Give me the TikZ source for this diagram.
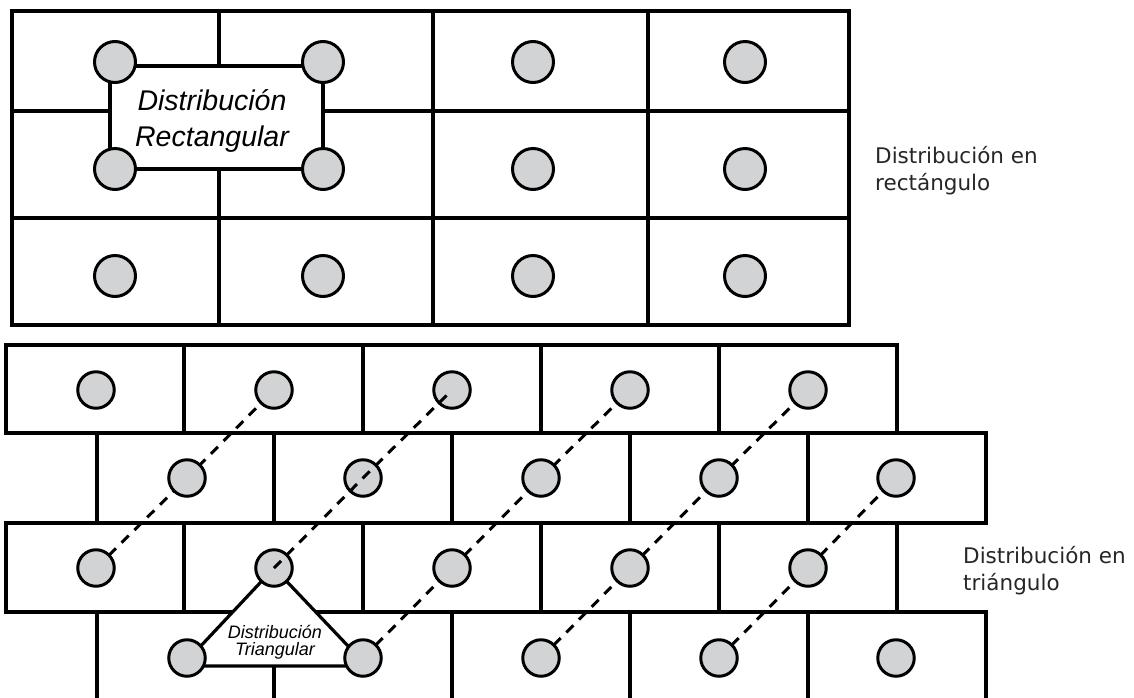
\documentclass[tikz,border=0pt]{standalone}
\usepackage{fontspec}
\setsansfont{Liberation Sans}
\newfontfamily\sidefont{DejaVu Sans}
\usetikzlibrary{backgrounds}
\definecolor{dotgray}{RGB}{209,211,212}
\tikzset{
    gridline/.style={line width=3.2pt, line cap=rect},
    bigdot/.style={circle, draw=black, line width=3pt, fill=dotgray, minimum size=41pt, inner sep=0pt},
    smalldot/.style={bigdot, minimum size=36.5pt},
    dashline/.style={line width=3pt, dash pattern=on 10pt off 8pt},
    rectlabel/.style={font=\fontsize{28.5}{36}\selectfont\sffamily\itshape, align=center, inner sep=0pt},
    trilabel/.style={font=\fontsize{18}{16.5}\selectfont\sffamily\itshape, align=center, inner sep=0pt},
    sidelabel/.style={font=\fontsize{21.5}{27}\selectfont\sidefont, text=black!85, align=left, inner sep=0pt},
}

\begin{document}
\begin{tikzpicture}[x=1pt, y=-1pt]
    \useasboundingbox (0,0) rectangle (1134,697);
    \newcommand\rowTa{62}
    \newcommand\rowTb{169}
    \newcommand\rowTc{276}
    \newcommand\wallA{390}
    \newcommand\wallB{478}
    \newcommand\wallC{568}
    \newcommand\wallD{658}

    % rectangular layout
    \node[bigdot] (T11) at (115, \rowTa){};
    \node[bigdot] (T12) at (323, \rowTa){};
    \node[bigdot] (T13) at (533, \rowTa){};
    \node[bigdot] (T14) at (745, \rowTa){};
    \node[bigdot] (T21) at (115, \rowTb){};
    \node[bigdot] (T22) at (323, \rowTb){};
    \node[bigdot] (T23) at (533, \rowTb){};
    \node[bigdot] (T24) at (745, \rowTb){};
    \node[bigdot] (T31) at (115, \rowTc){};
    \node[bigdot] (T32) at (323, \rowTc){};
    \node[bigdot] (T33) at (533, \rowTc){};
    \node[bigdot] (T34) at (745, \rowTc){};

    % triangular layout
    \node[smalldot] (A1) at (96, \wallA){};
    \node[smalldot] (A2) at (274, \wallA){};
    \node[smalldot] (A3) at (452, \wallA){};
    \node[smalldot] (A4) at (630, \wallA){};
    \node[smalldot] (A5) at (808, \wallA){};
    \node[smalldot] (B1) at (187, \wallB){};
    \node[smalldot] (B2) at (363, \wallB){};
    \node[smalldot] (B3) at (541, \wallB){};
    \node[smalldot] (B4) at (719, \wallB){};
    \node[smalldot] (B5) at (896, \wallB){};
    \node[smalldot] (C1) at (96, \wallC){};
    \node[smalldot] (C2) at (274, \wallC){};
    \node[smalldot] (C3) at (452, \wallC){};
    \node[smalldot] (C4) at (630, \wallC){};
    \node[smalldot] (C5) at (808, \wallC){};
    \node[smalldot] (D1) at (187, \wallD){};
    \node[smalldot] (D2) at (363, \wallD){};
    \node[smalldot] (D3) at (541, \wallD){};
    \node[smalldot] (D4) at (719, \wallD){};
    \node[smalldot] (D5) at (896, \wallD){};

    \begin{scope}[on background layer]
        % grid
        \draw[gridline] (12,11) rectangle (849,325);
        \draw[gridline] (12,111) -- (849,111);
        \draw[gridline] (12,218) -- (849,218);
        \draw[gridline] (219,11) -- (219,325);
        \draw[gridline] (433,11) -- (433,325);
        \draw[gridline] (648,11) -- (648,325);
        % bricks
        \draw[gridline] (6,345) -- (897,345);
        \draw[gridline] (6,433) -- (986,433);
        \draw[gridline] (6,523) -- (986,523);
        \draw[gridline] (6,612) -- (986,612);
        \draw[gridline] (6,345) -- (6,433) (184,345) -- (184,433) (363,345) -- (363,433) (541,345) -- (541,433) (719,345) -- (719,433) (897,345) -- (897,433);
        \draw[gridline] (97,433) -- (97,523) (274,433) -- (274,523) (452,433) -- (452,523) (630,433) -- (630,523) (808,433) -- (808,523) (986,433) -- (986,523);
        \draw[gridline] (6,523) -- (6,612) (184,523) -- (184,612) (363,523) -- (363,612) (541,523) -- (541,612) (719,523) -- (719,612) (897,523) -- (897,612);
        \draw[gridline] (97,612) -- (97,705) (274,612) -- (274,705) (452,612) -- (452,705) (630,612) -- (630,705) (808,612) -- (808,705) (986,612) -- (986,705);
        % diagonals
        \draw[dashline] (C1.center) -- (B1.center) -- (A2.center);
        \draw[dashline] (D2.center) -- (C3.center) -- (B3.center) -- (A4.center);
        \draw[dashline] (D3.center) -- (C4.center) -- (B4.center) -- (A5.center);
        \draw[dashline] (D4.center) -- (C5.center) -- (B5.center);
        % frames
        \draw[gridline, fill=white] ([shift={(-5,4)}]T11.center) rectangle (T22.center);
        \draw[gridline, line join=miter, fill=white] (C2.center) -- ([shift={(-5,8)}]D1.center) -- ([shift={(4,8)}]D2.center) -- cycle;
    \end{scope}

    \draw[dashline] (C2.center) -- (B2.center) -- (A3.center);

    \node[rectlabel] (rectText) at (212,120.5){Distribución\\Rectangular};
    \node[trilabel] (triText) at (275,642){Distribución\\Triangular};
    \node[sidelabel, anchor=base west] (rectNote) at (875,190){Distribución en\\rectángulo};
    \node[sidelabel, anchor=base west] (triNote) at (963,590){Distribución en\\triángulo};
\end{tikzpicture}
\end{document}
